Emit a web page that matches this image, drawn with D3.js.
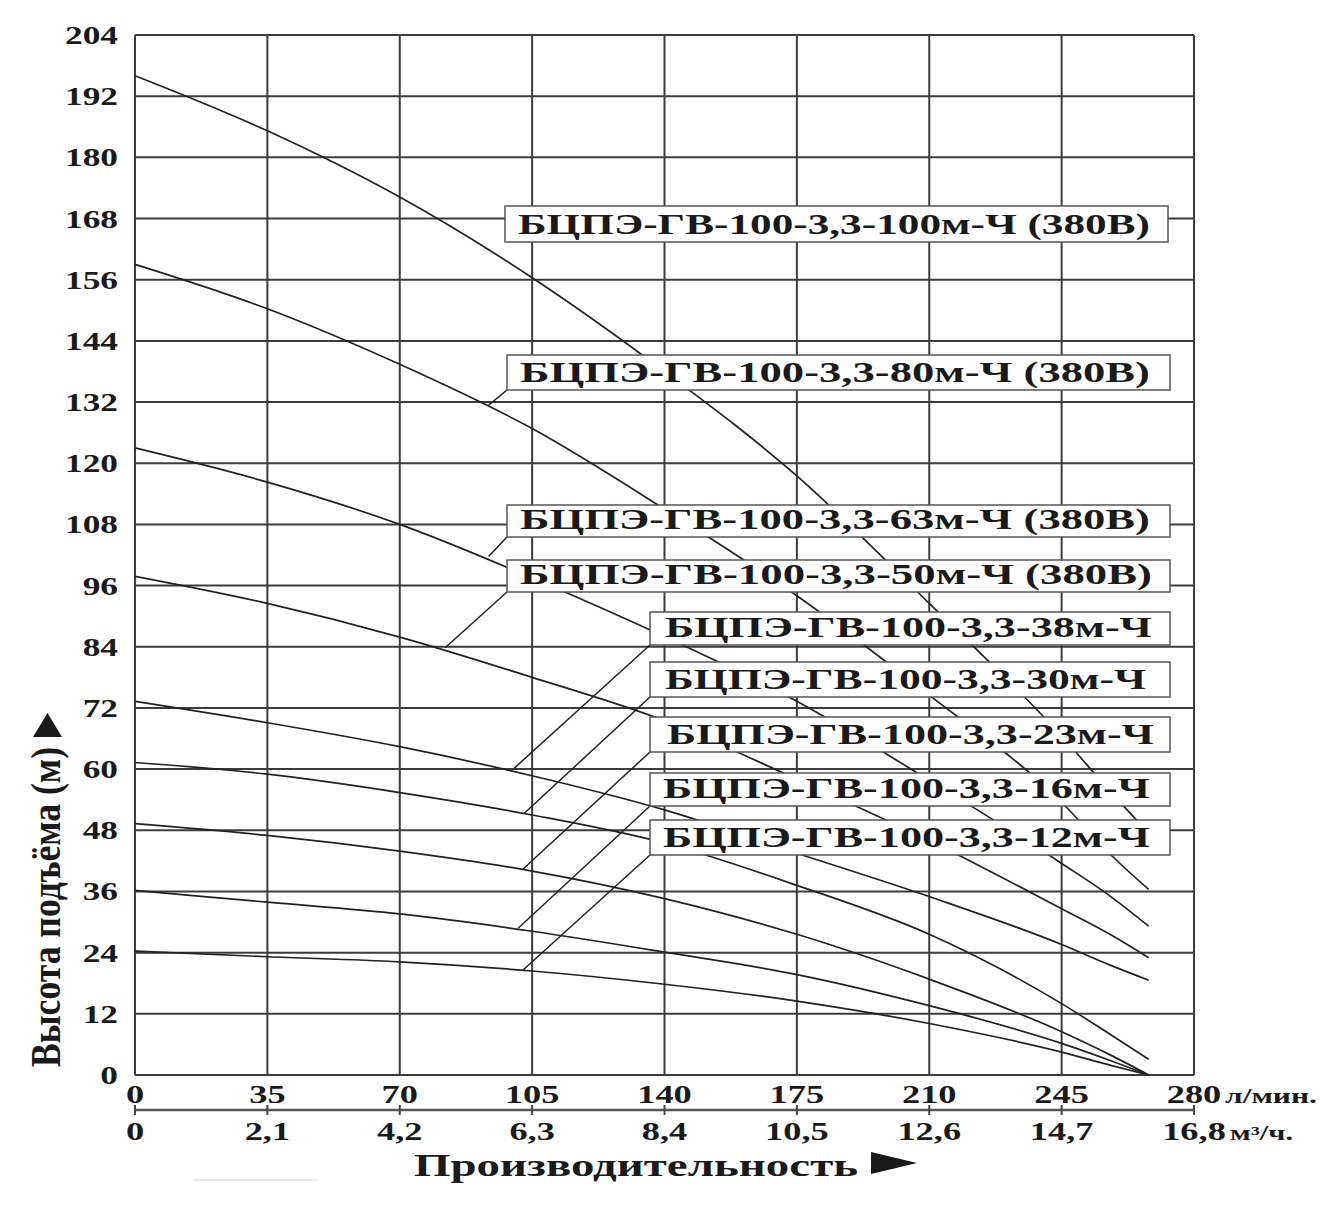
<!DOCTYPE html>
<html>
<head>
<meta charset="utf-8">
<script src="https://cdn.jsdelivr.net/npm/d3@7"></script>
<style>
  body { margin: 0; background: #fff; }
  text { font-family: "Liberation Serif", "DejaVu Serif", serif; font-weight: bold; fill: #1a1a1a; }
</style>
</head>
<body>
<div id="chart"></div>
<script>
// flow, l/min (common sample points for all curves)
var flows = [0, 35, 70, 105, 140, 175, 210, 245, 258, 268];
// head, m for each pump
var h100 = [196, 185.2, 172.2, 156.4, 138, 117.5, 92.5, 66.5, 55.5, 47.5];
var h80  = [159, 150.3, 139.4, 126.8, 111, 94, 74.5, 53.5, 43.2, 36.4];
var h63  = [123, 116.3, 108, 97.5, 86, 73.3, 57.8, 41.5, 35, 29.2];
var h50  = [97.8, 92.5, 85.9, 78, 69.5, 58, 46, 32.6, 27.5, 23];
var h38  = [73.3, 69.1, 64.4, 58.7, 52, 43.5, 35, 25.6, 21.5, 18.6];
var h30  = [61.3, 59, 55.4, 51, 45.5, 37.2, 27.6, 14, 7.9, 3.1];
var h23  = [49.3, 47, 43.9, 40, 34.6, 27.6, 18.8, 8.5, 3.9, 0];
var h16  = [36.2, 33.9, 31.6, 28.2, 24.1, 19.7, 13.6, 6.2, 2.8, 0];
var h12  = [24.3, 23.2, 22.2, 20.4, 17.8, 14.5, 10.1, 4.5, 1.9, 0];

var pumpNames = [
    "БЦПЭ-ГВ-100-3,3-100м-Ч (380В)",
    "БЦПЭ-ГВ-100-3,3-80м-Ч (380В)",
    "БЦПЭ-ГВ-100-3,3-63м-Ч (380В)",
    "БЦПЭ-ГВ-100-3,3-50м-Ч (380В)",
    "БЦПЭ-ГВ-100-3,3-38м-Ч",
    "БЦПЭ-ГВ-100-3,3-30м-Ч",
    "БЦПЭ-ГВ-100-3,3-23м-Ч",
    "БЦПЭ-ГВ-100-3,3-16м-Ч",
    "БЦПЭ-ГВ-100-3,3-12м-Ч"
];
var heads = [h100, h80, h63, h50, h38, h30, h23, h16, h12];

// where each label's leader touches its curve (flow, head); 100m has none
var leaderFlow = [null, 93.5, 93.5, 82, 100, 103, 102.6, 101.3, 102.6];
var leaderHead = [null, 131.4, 101.7, 83.8, 60, 51.4, 40.4, 28.8, 20.6];

var yTicks = d3.range(0, 205, 12);
var xTicksLpm = [0, 35, 70, 105, 140, 175, 210, 245, 280];
var xTicksM3 = ["0", "2,1", "4,2", "6,3", "8,4", "10,5", "12,6", "14,7", "16,8"];

// label boxes in page pixels: left, right, top, bottom, text left, text right
var boxes = [
    [505, 1168, 206, 242, 518, 1150],
    [507, 1170, 355, 390, 520, 1150],
    [507, 1170, 505, 537, 520, 1150],
    [507, 1170, 560, 592, 520, 1152],
    [650, 1170, 612, 645, 665, 1152],
    [650, 1170, 662, 697, 665, 1146],
    [650, 1170, 717, 752, 667, 1154],
    [650, 1170, 773, 806, 663, 1150],
    [650, 1170, 820, 855, 663, 1150]
];

function draw_chart() {
    var svg = d3.select("#chart").append("svg")
        .attr("width", 1324).attr("height", 1208);

    var x = d3.scaleLinear().domain([0, 280]).range([135, 1194]);
    var y = d3.scaleLinear().domain([0, 204]).range([1075, 35]);

    // stretched text, the source picture is widened horizontally
    function wideText(px, py, str, size, sx, anchor) {
        return svg.append("text")
            .attr("transform", "translate(" + px + "," + py + ") scale(" + sx + ",1)")
            .attr("font-size", size)
            .attr("text-anchor", anchor)
            .text(str);
    }

    // grid
    var grid = svg.append("g").attr("stroke", "#3c3c3c").attr("stroke-width", 2);
    grid.selectAll("line.h").data(yTicks).enter().append("line")
        .attr("x1", x(0)).attr("x2", x(280))
        .attr("y1", function(d) { return y(d); })
        .attr("y2", function(d) { return y(d); });
    grid.selectAll("line.v").data(xTicksLpm).enter().append("line")
        .attr("y1", y(0)).attr("y2", y(204))
        .attr("x1", function(d) { return x(d); })
        .attr("x2", function(d) { return x(d); });

    // pump curves
    var line = d3.line()
        .x(function(d, i) { return x(flows[i]); })
        .y(function(d) { return y(d); })
        .curve(d3.curveMonotoneX);
    svg.append("g").selectAll("path").data(heads).enter().append("path")
        .attr("d", line)
        .attr("fill", "none")
        .attr("stroke", "#222")
        .attr("stroke-width", 1.7);

    // leader lines from box corners to curves
    for (var i = 1; i < boxes.length; i++) {
        svg.append("line")
            .attr("x1", boxes[i][0]).attr("y1", boxes[i][3])
            .attr("x2", x(leaderFlow[i])).attr("y2", y(leaderHead[i]))
            .attr("stroke", "#222").attr("stroke-width", 1.5);
    }

    // label boxes
    boxes.forEach(function(b, i) {
        svg.append("rect")
            .attr("x", b[0]).attr("y", b[2])
            .attr("width", b[1] - b[0]).attr("height", b[3] - b[2])
            .attr("fill", "#fff").attr("stroke", "#555").attr("stroke-width", 1.5);
        svg.append("text")
            .attr("x", b[4]).attr("y", b[3] - 8)
            .attr("font-size", 29)
            .attr("textLength", b[5] - b[4])
            .attr("lengthAdjust", "spacingAndGlyphs")
            .text(pumpNames[i]);
    });

    // y tick labels
    yTicks.forEach(function(t) {
        wideText(118, y(t) + 9, t, 26, 1.36, "end");
    });

    // first x axis, l/min
    xTicksLpm.forEach(function(t) {
        wideText(x(t), 1103, t, 26, 1.4, "middle");
    });
    svg.append("text").attr("x", 1225).attr("y", 1103)
        .attr("font-size", 20).attr("textLength", 92)
        .attr("lengthAdjust", "spacingAndGlyphs").text("л/мин.");

    // second x axis, m3/h
    svg.append("line").attr("x1", x(0)).attr("x2", x(280))
        .attr("y1", 1110).attr("y2", 1110)
        .attr("stroke", "#555").attr("stroke-width", 2.5);
    svg.selectAll("line.tk").data(xTicksLpm).enter().append("line")
        .attr("x1", function(d) { return x(d); })
        .attr("x2", function(d) { return x(d); })
        .attr("y1", 1105).attr("y2", 1115)
        .attr("stroke", "#444").attr("stroke-width", 2);
    xTicksM3.forEach(function(t, i) {
        wideText(x(xTicksLpm[i]), 1140, t, 26, 1.4, "middle");
    });
    svg.append("text").attr("x", 1230).attr("y", 1140)
        .attr("font-size", 20).attr("textLength", 63)
        .attr("lengthAdjust", "spacingAndGlyphs").text("м³/ч.");

    // axis titles
    svg.append("text").attr("x", 414).attr("y", 1176)
        .attr("font-size", 32).attr("textLength", 444)
        .attr("lengthAdjust", "spacingAndGlyphs").text("Производительность");
    svg.append("path").attr("d", "M871,1152 L917,1163 L871,1174 Z").attr("fill", "#1a1a1a");

    svg.append("text")
        .attr("transform", "translate(60,1067) rotate(-90) scale(1,1.35)")
        .attr("font-size", 32).attr("textLength", 320)
        .attr("lengthAdjust", "spacingAndGlyphs").text("Высота подъёма (м)");
    svg.append("path").attr("d", "M33,737 L62,737 L47.5,713 Z").attr("fill", "#1a1a1a");

    // faint scanning mark under the chart
    svg.append("line").attr("x1", 193).attr("x2", 317).attr("y1", 1180).attr("y2", 1180)
        .attr("stroke", "#ececec").attr("stroke-width", 2);
}

window.onload = draw_chart;
</script>
</body>
</html>
